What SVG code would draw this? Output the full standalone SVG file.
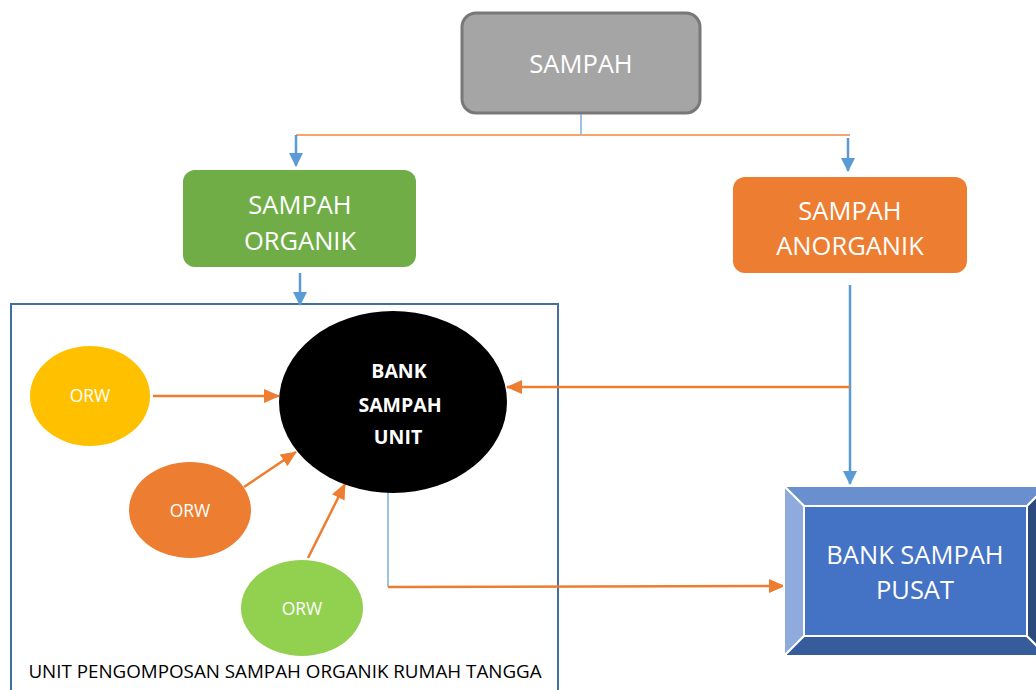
<svg xmlns="http://www.w3.org/2000/svg" width="1036" height="690" viewBox="0 0 1036 690">
  <style>
    .t { font-family: "Open Sans", "Liberation Sans", sans-serif; fill: #ffffff; text-anchor: middle; }
    .big { font-size: 25.5px; }
    .orw { font-size: 17.5px; }
    .bold { font-size: 19.5px; font-weight: bold; }
    .blue { stroke: #5b9bd5; stroke-width: 2.5; fill: none; }
    .thinblue { stroke: #5b9bd5; stroke-width: 1.2; fill: none; }
    .orange { stroke: #ed7d31; stroke-width: 2.5; fill: none; }
  </style>
  <defs>
    <marker id="ab" markerUnits="userSpaceOnUse" markerWidth="14" markerHeight="14" viewBox="0 0 14 14" refX="13" refY="7" orient="auto">
      <path d="M0,0 L14,7 L0,14 Z" fill="#5b9bd5"/>
    </marker>
    <marker id="ao" markerUnits="userSpaceOnUse" markerWidth="16" markerHeight="14" viewBox="0 0 16 14" refX="15" refY="7" orient="auto">
      <path d="M0,0 L16,7 L0,14 Z" fill="#ed7d31"/>
    </marker>
  </defs>

  <rect width="1036" height="690" fill="#ffffff"/>

  <g id="unit-container">
    <rect x="11" y="304" width="547" height="400" fill="none" stroke="#41719c" stroke-width="2"/>
    <text x="285" y="678" font-family="Open Sans, Liberation Sans, sans-serif" font-size="18.8" fill="#000000" text-anchor="middle">UNIT PENGOMPOSAN SAMPAH ORGANIK RUMAH TANGGA</text>
  </g>

  <g id="connectors">
    <line x1="581" y1="113" x2="581" y2="135" class="thinblue"/>
    <line x1="296" y1="135" x2="850" y2="135" stroke="#f4a46c" stroke-width="2"/>
    <line x1="296" y1="135" x2="296" y2="166" class="blue" marker-end="url(#ab)"/>
    <line x1="848" y1="138" x2="848" y2="171" class="blue" marker-end="url(#ab)"/>
    <line x1="300" y1="273" x2="300" y2="305" class="blue" marker-end="url(#ab)"/>
    <line x1="850" y1="285" x2="850" y2="484" class="blue" marker-end="url(#ab)"/>
    <line x1="850" y1="387" x2="507" y2="387" class="orange" marker-end="url(#ao)"/>
    <line x1="153" y1="396" x2="279" y2="396" class="orange" marker-end="url(#ao)"/>
    <line x1="244" y1="487" x2="296" y2="452" class="orange" marker-end="url(#ao)"/>
    <line x1="308" y1="558" x2="345" y2="484" class="orange" marker-end="url(#ao)"/>
    <line x1="388" y1="490" x2="388" y2="587" class="thinblue"/>
    <line x1="388" y1="587" x2="784" y2="586" class="orange" marker-end="url(#ao)"/>
  </g>

  <g id="sampah">
    <rect x="462" y="13" width="238" height="100" rx="14" fill="#a5a5a5" stroke="#787878" stroke-width="3"/>
    <text x="581" y="73" class="t big">SAMPAH</text>
  </g>

  <g id="sampah-organik">
    <rect x="183" y="170" width="233" height="97" rx="12" fill="#70ad47"/>
    <text x="300" y="214" class="t big">SAMPAH</text>
    <text x="300" y="250" class="t big">ORGANIK</text>
  </g>

  <g id="sampah-anorganik">
    <rect x="733" y="177" width="234" height="96" rx="12" fill="#ed7d31"/>
    <text x="850" y="220" class="t big">SAMPAH</text>
    <text x="850" y="255" class="t big">ANORGANIK</text>
  </g>

  <g id="bank-sampah-unit">
    <ellipse cx="393" cy="402" rx="114" ry="91" fill="#000000"/>
    <text x="399" y="378" class="t bold">BANK</text>
    <text x="400" y="412" class="t bold">SAMPAH</text>
    <text x="398" y="444" class="t bold">UNIT</text>
  </g>

  <g id="orw-yellow">
    <ellipse cx="90" cy="396" rx="60" ry="50" fill="#ffc000"/>
    <text x="90" y="402" class="t orw">ORW</text>
  </g>

  <g id="orw-orange">
    <ellipse cx="190" cy="510" rx="61" ry="48" fill="#ed7d31"/>
    <text x="190" y="517" class="t orw">ORW</text>
  </g>

  <g id="orw-green">
    <ellipse cx="302" cy="608" rx="61" ry="48" fill="#92d050"/>
    <text x="302" y="615" class="t orw">ORW</text>
  </g>

  <g id="bank-sampah-pusat">
    <polygon points="784,486 1047,486 1027,506 804,506" fill="#6a8fcf" stroke="#ffffff" stroke-width="2"/>
    <polygon points="784,486 804,506 804,636 784,656" fill="#8faadc" stroke="#ffffff" stroke-width="2"/>
    <polygon points="784,656 804,636 1027,636 1047,656" fill="#365c9c" stroke="#ffffff" stroke-width="2"/>
    <polygon points="1047,486 1047,656 1027,636 1027,506" fill="#2c4a7e" stroke="#ffffff" stroke-width="2"/>
    <rect x="804" y="506" width="223" height="130" fill="#4472c4" stroke="#ffffff" stroke-width="2"/>
    <text x="915" y="564" class="t big">BANK SAMPAH</text>
    <text x="915" y="599" class="t big">PUSAT</text>
  </g>
</svg>
